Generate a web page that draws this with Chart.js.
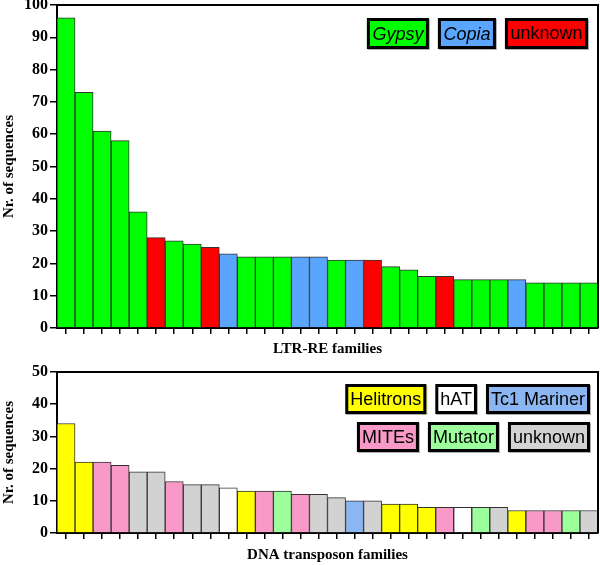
<!DOCTYPE html>
<html>
<head>
<meta charset="utf-8">
<script src="https://cdn.jsdelivr.net/npm/chart.js@4/dist/chart.umd.min.js"></script>
<style>
  html, body { margin: 0; padding: 0; background: #fff; }
  #wrap { position: relative; width: 600px; height: 565px; }
  #ltr { position: absolute; left: 0; top: 0; }
  #dna { position: absolute; left: 0; top: 360px; }
</style>
</head>
<body>
<div id="wrap">
  <canvas id="ltr" width="600" height="360"></canvas>
  <canvas id="dna" width="600" height="205"></canvas>
</div>
<script>
// LTR retrotransposon families (sorted by number of sequences)
const ltrValues = [96, 73, 61, 58, 36, 28, 27, 26, 25, 23, 22, 22, 22, 22, 22,
                   21, 21, 21, 19, 18, 16, 16, 15, 15, 15, 15, 14, 14, 14, 14];
const ltrTypes = ['Gypsy', 'Gypsy', 'Gypsy', 'Gypsy', 'Gypsy', 'unknown', 'Gypsy', 'Gypsy', 'unknown', 'Copia',
                  'Gypsy', 'Gypsy', 'Gypsy', 'Copia', 'Copia', 'Gypsy', 'Copia', 'unknown', 'Gypsy', 'Gypsy',
                  'Gypsy', 'unknown', 'Gypsy', 'Gypsy', 'Gypsy', 'Copia', 'Gypsy', 'Gypsy', 'Gypsy', 'Gypsy'];
const ltrLegend = [['Gypsy', 'Copia', 'unknown']];
const ltrColors = { Gypsy: '#00ff00', Copia: '#5aa6ff', unknown: '#ff0000' };
const ltrItalic = { Gypsy: true, Copia: true, unknown: false };
const ltrTicks = [0, 10, 20, 30, 40, 50, 60, 70, 80, 90, 100];

// DNA transposon families
const dnaValues = [34, 22, 22, 21, 19, 19, 16, 15, 15, 14, 13, 13, 13, 12, 12,
                   11, 10, 10, 9, 9, 8, 8, 8, 8, 8, 7, 7, 7, 7, 7];
const dnaTypes = ['Helitrons', 'Helitrons', 'MITEs', 'MITEs', 'unknown', 'unknown', 'MITEs', 'unknown', 'unknown', 'hAT',
                  'Helitrons', 'MITEs', 'Mutator', 'MITEs', 'unknown', 'unknown', 'Tc1 Mariner', 'unknown', 'Helitrons', 'Helitrons',
                  'Helitrons', 'MITEs', 'hAT', 'Mutator', 'unknown', 'Helitrons', 'MITEs', 'MITEs', 'Mutator', 'unknown'];
const dnaLegend = [['Helitrons', 'hAT', 'Tc1 Mariner'], ['MITEs', 'Mutator', 'unknown']];
const dnaColors = { 'Helitrons': '#ffff00', 'hAT': '#ffffff', 'Tc1 Mariner': '#8cb6f2',
                    'MITEs': '#f899c8', 'Mutator': '#9cff9c', 'unknown': '#d2d2d2' };
const dnaTicks = [0, 10, 20, 30, 40, 50];

const serif = '"Liberation Serif", "Times New Roman", serif';
const sans = '"Liberation Sans", Arial, sans-serif';

// frame around the plot area + boxed legend in the upper right corner
const frameAndLegend = {
  id: 'frameAndLegend',
  afterDraw(chart, args, opts) {
    const ctx = chart.ctx;
    const a = chart.chartArea;
    ctx.save();
    ctx.strokeStyle = '#000';
    ctx.lineWidth = 2;
    ctx.beginPath();
    ctx.moveTo(a.left, a.top);
    ctx.lineTo(a.right, a.top);
    ctx.lineTo(a.right, a.bottom);
    ctx.stroke();

    opts.rows.forEach((row, r) => {
      let x = a.right - opts.right;
      const y = a.top + opts.top + r * opts.rowStep;
      for (let i = row.length - 1; i >= 0; i--) {
        const name = row[i];
        ctx.font = (opts.italic[name] ? 'italic ' : '') + '18px ' + sans;
        const w = ctx.measureText(name).width + opts.padX * 2;
        x -= w;
        ctx.fillStyle = '#b0b0b0';
        ctx.fillRect(x + 1, y + 1, w, opts.h);
        ctx.fillStyle = opts.colors[name];
        ctx.fillRect(x, y, w, opts.h);
        ctx.lineWidth = 3;
        ctx.strokeStyle = '#000';
        ctx.strokeRect(x + 1.5, y + 1.5, w - 3, opts.h - 3);
        ctx.fillStyle = '#000';
        ctx.textBaseline = 'middle';
        ctx.textAlign = 'left';
        ctx.fillText(name, x + opts.padX, y + opts.h / 2 + 1);
        x -= opts.gap;
      }
    });
    ctx.restore();
  }
};

function makeChart(id, values, types, colors, tickVals, xTitle, legend) {
  const yMax = tickVals[tickVals.length - 1];
  return new Chart(document.getElementById(id), {
    type: 'bar',
    data: {
      labels: values.map((v, i) => String(i + 1)),
      datasets: [{
        data: values,
        backgroundColor: types.map(t => colors[t]),
        borderColor: '#333',
        borderWidth: 1,
        barPercentage: 1,
        categoryPercentage: 1
      }]
    },
    options: {
      responsive: false,
      animation: false,
      events: [],
      layout: { padding: { top: legend.padTop, right: 2, left: 0, bottom: 0 } },
      plugins: {
        legend: { display: false },
        tooltip: { enabled: false },
        frameAndLegend: legend
      },
      scales: {
        x: {
          grid: { display: true, drawOnChartArea: false, offset: false, color: '#000', lineWidth: 1.5, tickLength: 6 },
          border: { display: true, color: '#000', width: 2 },
          ticks: { display: false },
          title: { display: true, text: xTitle, color: '#000', font: { family: serif, size: 15, weight: 'bold' }, padding: { top: 0, bottom: legend.xTitlePad } },
          afterFit(s) { s.height = legend.xHeight; }
        },
        y: {
          min: 0,
          max: yMax,
          afterBuildTicks(s) { s.ticks = tickVals.map(v => ({ value: v })); },
          grid: { display: true, drawOnChartArea: false, color: '#000', lineWidth: 1.5, tickLength: 7 },
          border: { display: true, color: '#000', width: 2 },
          ticks: { color: '#000', padding: 2, font: { family: serif, size: 16, weight: 'bold' } },
          title: { display: true, text: 'Nr. of sequences', color: '#000', font: { family: serif, size: 15, weight: 'bold' }, padding: { top: 0, bottom: 0 } },
          afterFit(s) { s.width = 57; s.paddingTop = 0; s.paddingBottom = 0; }
        }
      }
    },
    plugins: [frameAndLegend]
  });
}

makeChart('ltr', ltrValues, ltrTypes, ltrColors, ltrTicks, 'LTR-RE families', {
  rows: ltrLegend, colors: ltrColors, italic: ltrItalic,
  right: 10, top: 13, rowStep: 38, h: 31, padX: 5.5, gap: 9,
  padTop: 5, xHeight: 32, xTitlePad: 2
});

makeChart('dna', dnaValues, dnaTypes, dnaColors, dnaTicks, 'DNA transposon families', {
  rows: dnaLegend, colors: dnaColors, italic: {},
  right: 8, top: 12, rowStep: 38, h: 30, padX: 5, gap: 9,
  padTop: 12, xHeight: 32, xTitlePad: 1
});
</script>
</body>
</html>
